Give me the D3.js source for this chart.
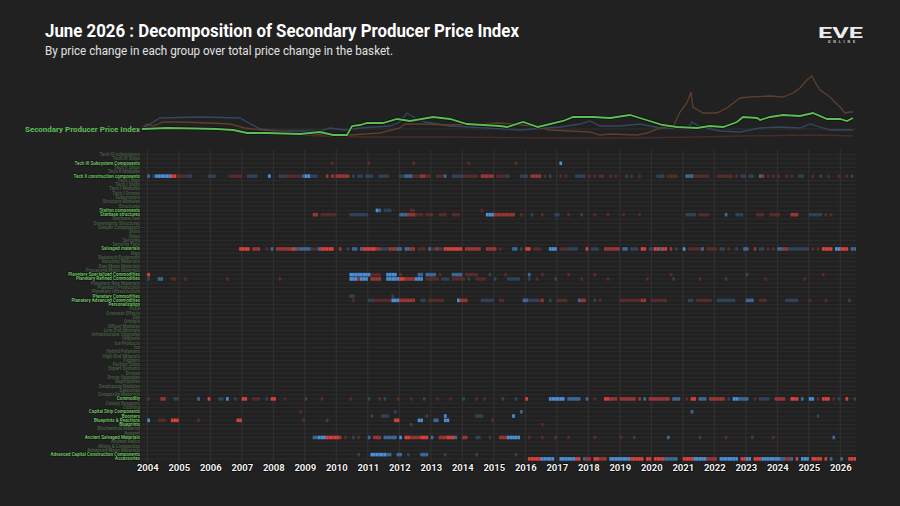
<!DOCTYPE html>
<html lang="en">
<head>
<meta charset="UTF-8">
<title>Decomposition of Secondary Producer Price Index</title>
<script src="https://cdn.jsdelivr.net/npm/d3@7"></script>
<style>
    body { margin: 0; background: #212121; }
    svg { display: block; }
    text { font-family: Roboto, "Liberation Sans", sans-serif; }
</style>
</head>
<body>
<script>
    // monthly cells, Jan 2004 .. Jun 2026
    var nMonths = 270;
    var years = d3.range(2004, 2027);

    // market groups, top to bottom
    var groups = [
        "Tech III subsystems", "Tech III Ships", "Tech III Subsystem Components", "Tech II Ships",
        "Tech II Modules", "Tech II construction components", "Tech I Rigs", "Tech I Ships",
        "Tech I Modules", "Tech I Drones", "Subsystems", "Structure Modules", "Structures",
        "Station components", "Starbase structures", "Starbase Fuel", "Sovereignty Structures",
        "Sleeper Components", "Skins", "Ships", "Services", "Security Tags", "Salvaged materials",
        "Rigs", "Research Equipment", "Reaction Materials", "Raw Moon Materials",
        "Processed Moon Materials", "Planetary Specialized Commodities", "Planetary Refined Commodities",
        "Planetary Raw Materials", "Planetary Production", "Planetary Infrastructure",
        "Planetary Commodities", "Planetary Advanced Commodities", "Personalization", "PLEX",
        "Overseer Effects", "Ore", "Orbitals", "Officer Modules", "Low-End Minerals",
        "Infrastructure Upgrades", "Implants", "Ice Products", "Ice", "Hybrid Polymers",
        "High-End Minerals", "Fighters", "Faction Ships", "Expert Systems", "Drones",
        "Drone Upgrades", "Deployables", "Deadspace Modules", "Datacores", "Composite Materials",
        "Commodity", "Colony Reagents", "Clothing", "Capital Ship Components", "Boosters",
        "Blueprints & Reactions", "Blueprints", "Biochemical Material", "Apparel",
        "Ancient Salvaged Materials", "Ancient Relics", "Alloys & Composites",
        "Advanced Moon Materials", "Advanced Capital Construction Components", "Accessories"
    ];

    var highlighted = [
        "Tech III Subsystem Components", "Tech II construction components", "Station components",
        "Starbase structures", "Salvaged materials", "Planetary Specialized Commodities",
        "Planetary Refined Commodities", "Planetary Commodities", "Planetary Advanced Commodities",
        "Personalization", "Commodity", "Capital Ship Components", "Boosters",
        "Blueprints & Reactions", "Blueprints", "Ancient Salvaged Materials",
        "Advanced Capital Construction Components", "Accessories"
    ];

    // share of price change per month: "month:code" or "from-to:code"
    // codes 1-3 = blue (weak..strong), a-c = red (weak..strong)
    var cells = {
        "Tech III Subsystem Components": "70:a 84:a 101:a 122:a 140:a 157:3",
        "Tech II construction components": "0:2 2:1 3-8:3 9-10:c 11:a 12-14:a 15-16:1 23:1 24-25:1 31-35:a 38-41:1 46:3 50-52:1 53-58:a 59:2 60-61:3 62-64:1 68:b 70:b 71:a 72-76:b 78:1 80-81:1 83:1 84-85:1 88-91:1 96-97:1 98-100:2 101-103:a 104-105:b 106-107:a 110-112:a 113:2 116-119:1 120-125:a 127-131:b 133-136:a 137:1 142-144:1 146-149:b 151:a 153:1 157:a 159:a 163-166:1 168:a 170:a 172-173:a 176:a 178:a 182:1 184:a 187:a 194-196:1 198-201:a 205-207:2 208-213:a 217-222:a 224:a 226-227:1 229-230:1 233:2 234:b 236:a 238:a 240:a 243:a 245:a 248-249:1 253:a 256:1 259:a 263:a 266:a 268:1",
        "Station components": "87:3 88:2 90-92:1 100-101:a 127:a",
        "Starbase structures": "63-64:b 66-71:a 77-83:1 96-98:2 99-101:b 102-104:a 106-108:a 111-113:a 116-118:a 129-131:3 132-139:b 142:a 146:1 150:a 155-156:1 160:a 165:1 170:a 175:a 181:a 187:a 205-208:1 210-213:a 220:2 224-226:1 232-234:a 237-240:a 245-247:b 252-256:1 258:a 260:a",
        "Salvaged materials": "35-38:c 40-42:b 45:a 47:2 49-54:b 55:c 56:2 57:b 58-61:2 62:1 63-64:a 65:2 66-70:c 73:b 76:1 78-79:2 81:2 82-86:c 87-88:b 89-91:1 92-94:b 95-96:2 98-99:2 100-101:b 103-105:a 107:2 108:a 109:1 110:b 111:1 112:a 113-119:c 121-126:b 129-132:b 134:a 139-140:2 142:1 144-145:c 147-149:a 153-155:3 157-159:a 160-163:1 167:c 169-171:1 174-179:b 181-182:2 184-186:1 188-189:c 191-192:1 193-194:c 195:2 196-197:c 199:b 201:1 204:3 206-210:a 211:2 213-216:a 218-219:1 221:a 224:1 227-228:2 231:b 233-234:1 236:a 238:a 240-241:2 242-243:b 244-251:1 253:a 255:a 257-260:c 262-263:3 264-266:c 268-269:2",
        "Planetary Specialized Commodities": "0:c 77-84:3 85-88:a 91-94:3 96:a 103-104:2 106-109:2 111:a 116-119:2 121-125:a 130:1 136:a 145:2 150:a 160:a 170:a 199:a 228:1 257:a",
        "Planetary Refined Commodities": "0:1 4-5:2 9-10:a 14:a 30:a 50:a 77-79:3 80:b 81-83:3 85-88:b 91-95:3 96-97:c 98-101:b 102-104:3 106-110:a 112-114:1 116-120:a 122:1 125-128:a 132:1 137-141:1 145:1 148:a 155:1 165:a 175:a 190:a 200:1 210:a 220:1 235:a 250:a",
        "Planetary Commodities": "77-78:1 93:1",
        "Planetary Advanced Commodities": "78:a 84-85:1 86-92:a 93-95:3 96-101:b 104-105:1 107-112:a 118:3 119-121:b 127-131:1 134-135:a 143-144:2 145-148:1 149:a 150:b 153:1 156-159:a 164:2 165-166:b 170:1 172:a 180-187:a 188-189:b 192-197:a 206-207:1 209-214:a 217-223:1 228-230:2 233-235:a 243-247:1 252:a 258:a 267:1",
        "Commodity": "0:a 5-6:b 10-11:1 19:2 23:c 27-28:1 30:3 33:1 36-37:c 40-42:a 45:1 47-48:c 52:a 60:1 66:a 77:a 84:1 88:a 90:1 95:a 100:a 105:1 110:a 115:a 120:1 125:a 128:a 135:1 140:1 144:c 153-158:3 160-164:2 167:2 170:a 174-175:c 176-178:b 180-185:b 187:b 189:2 191-197:b 198:b 200-202:2 205:a 207-208:c 210-212:2 214-219:b 221:1 223-224:3 225-228:2 231:a 233-236:1 239-242:b 245-247:c 249:2 252-253:3 255:a 257-259:c 261:a 263:1 266:c 269:1",
        "Capital Ship Components": "58:a 94:1 142:2 207:2",
        "Boosters": "85:1 89-91:1 106:1 113:3 125-127:1 139:3 255:1",
        "Blueprints & Reactions": "0:3 4-6:a 9-11:c 19:a 34-35:c 59:a 68:1 94-95:c 103-104:3 109-110:2 113-114:3 131:a",
        "Blueprints": "100:1 150:a",
        "Ancient Salvaged Materials": "63-64:2 65-67:3 68-72:c 73:b 75:a 78:1 80:a 84:2 86-88:b 90-94:2 96:3 98-99:c 100-103:b 104-106:c 108:2 111-113:b 114-116:c 117:2 120-121:b 125-126:1 130:a 134-136:b 137-141:3 145:a 150:a 155:a 160:a 170:a 180:a 185:1 198:2 210:1 220:a 230:1 238:a 261:2",
        "Advanced Capital Construction Components": "80:1 85-90:3 91-92:2 95-96:2 99:1 104-106:2 113:1 125:1 140:1",
        "Accessories": "145-149:c 150-154:3 157-162:3 163-164:c 166:2 167-168:b 170-171:c 172-174:b 176-183:3 184-188:c 190-191:c 193-196:c 197-201:2 204-207:c 208-212:3 213-216:b 218-224:3 226-227:c 228-229:3 231-233:c 234-240:3 241-242:2 243-244:b 245:2 247:c 249-251:3 253-256:c 258:c 260:2 264:2 267-269:c"
    };

    // index lines: [year, index value]
    var sppiLine = [[2003.83, 100], [2004.63, 102], [2005.5, 101], [2006.2, 100], [2006.73, 98], [2007.17, 92], [2007.80, 92], [2008.85, 90], [2009.48, 94], [2009.90, 88], [2010.34, 88], [2010.50, 106], [2010.75, 108], [2010.98, 112], [2011.48, 112], [2011.93, 120], [2012.34, 116], [2013.07, 124], [2013.61, 120], [2014.15, 110], [2015.20, 106], [2015.42, 104], [2015.93, 114], [2016.40, 104], [2017.20, 116], [2017.52, 124], [2018.15, 124], [2018.69, 122], [2019.32, 128], [2019.74, 120], [2020.37, 108], [2020.82, 104], [2021.45, 102], [2021.86, 106], [2022.28, 104], [2022.72, 114], [2022.91, 124], [2023.36, 122], [2023.45, 118], [2023.77, 124], [2024.18, 128], [2024.72, 126], [2025.13, 132], [2025.58, 120], [2025.99, 120], [2026.21, 116], [2026.40, 122]];
    var brownLine = [[2003.83, 102], [2003.99, 110], [2004.18, 106], [2004.50, 114], [2005.04, 114], [2005.99, 112], [2006.63, 110], [2007.10, 102], [2007.90, 96], [2008.85, 92], [2009.80, 88], [2010.43, 88], [2011.39, 92], [2012.02, 102], [2012.18, 110], [2012.66, 110], [2013.61, 108], [2015.20, 112], [2016.24, 106], [2016.78, 98], [2018.05, 94], [2018.37, 88], [2018.69, 90], [2019.55, 88], [2019.86, 92], [2020.28, 102], [2020.69, 104], [2020.91, 134], [2021.13, 152], [2021.26, 174], [2021.32, 144], [2021.64, 132], [2022.08, 132], [2022.40, 142], [2022.82, 162], [2023.13, 164], [2023.77, 166], [2024.18, 164], [2024.50, 172], [2024.72, 182], [2024.94, 198], [2025.10, 206], [2025.20, 194], [2025.36, 178], [2025.67, 164], [2025.99, 144], [2026.15, 132], [2026.31, 134], [2026.40, 134]];
    var blueLine = [[2003.83, 100], [2004.09, 110], [2004.40, 122], [2005.68, 124], [2006.94, 122], [2007.17, 114], [2007.58, 100], [2008.21, 96], [2009.48, 96], [2009.80, 102], [2010.28, 98], [2010.75, 102], [2011.71, 106], [2012.02, 114], [2012.24, 132], [2012.50, 122], [2012.82, 114], [2013.61, 106], [2014.25, 104], [2015.83, 98], [2017.10, 104], [2017.74, 110], [2018.05, 116], [2018.37, 106], [2019.01, 106], [2019.64, 110], [2020.28, 102], [2021.17, 102], [2021.29, 114], [2021.55, 104], [2022.18, 96], [2022.82, 94], [2023.45, 102], [2024.09, 104], [2024.72, 102], [2025.04, 110], [2025.36, 104], [2025.67, 98], [2026.40, 98]];
    var redLine = [[2003.83, 100], [2004.40, 104], [2005.68, 102], [2006.94, 96], [2008.21, 90], [2009.48, 86], [2010.75, 84], [2013.61, 84], [2015.20, 83], [2017.10, 82], [2019.01, 82], [2020.28, 83], [2021.55, 84], [2022.82, 86], [2024.09, 87], [2025.36, 88], [2026.40, 86]];

    var codeValue = { "1": 1, "2": 2, "3": 3, "a": -1, "b": -2, "c": -3 };

    function parseCells(spec) {
        var out = [];
        spec.trim().split(/\s+/).forEach(function (tok) {
            var p = tok.split(":"), r = p[0].split("-");
            var a = +r[0], b = r.length > 1 ? +r[1] : a;
            for (var m = a; m <= b && m < nMonths; m++) out.push({ m: m, v: codeValue[p[1]] });
        });
        return out;
    }

    var W = 900, H = 506;
    var svg = d3.select("body").append("svg").attr("width", W).attr("height", H);
    svg.append("rect").attr("width", W).attr("height", H).attr("fill", "#212121");

    // scales
    var x = d3.scaleLinear().domain([2004, 2026]).range([147.3, 840.3]);
    var y = d3.scaleBand().domain(groups).range([152.9, 460.7]).paddingInner(0.16);
    var yLine = d3.scaleLinear().domain([80, 210]).range([139, 74]);
    var alpha = d3.scaleLinear().domain([1, 3]).range([0.28, 1]);
    var rowMid = function (g) { return y(g) + y.bandwidth() / 2; };

    // title
    svg.append("text").attr("x", 45).attr("y", 37)
        .attr("font-size", 19).attr("font-weight", "bold").attr("fill", "#ffffff")
        .attr("textLength", 474).attr("lengthAdjust", "spacingAndGlyphs")
        .text("June 2026 : Decomposition of Secondary Producer Price Index");
    svg.append("text").attr("x", 45).attr("y", 55)
        .attr("font-size", 12).attr("fill", "#e2e2e2")
        .attr("textLength", 348).attr("lengthAdjust", "spacingAndGlyphs")
        .text("By price change in each group over total price change in the basket.");

    // logo
    svg.append("text").attr("x", 818).attr("y", 37.5)
        .attr("font-size", 15).attr("font-weight", "bold").attr("fill", "#ececec")
        .attr("textLength", 45).attr("lengthAdjust", "spacingAndGlyphs").text("EVE");
    svg.append("text").attr("x", 828).attr("y", 43)
        .attr("font-size", 3.6).attr("font-weight", "bold").attr("fill", "#cfcfcf")
        .attr("textLength", 27).attr("lengthAdjust", "spacing").text("ONLINE");

    // row guide lines
    svg.append("g").selectAll("line").data(groups).enter().append("line")
        .attr("x1", 141).attr("x2", 856)
        .attr("y1", rowMid).attr("y2", rowMid)
        .attr("stroke", "#2c2c2c").attr("stroke-width", 1);

    // year grid
    svg.append("g").selectAll("line").data(years).enter().append("line")
        .attr("x1", function (d) { return x(d); }).attr("x2", function (d) { return x(d); })
        .attr("y1", 150).attr("y2", 462)
        .attr("stroke", "#333333").attr("stroke-width", 1);

    // heat cells
    var cellData = [];
    Object.keys(cells).forEach(function (g) {
        parseCells(cells[g]).forEach(function (c) { c.g = g; cellData.push(c); });
    });
    var mx = function (m) { return x(2004 + m / 12); };
    svg.append("g").selectAll("rect").data(cellData).enter().append("rect")
        .attr("x", function (d) { return mx(d.m); })
        .attr("width", function (d) { return mx(d.m + 1) - mx(d.m); })
        .attr("y", function (d) { return y(d.g); })
        .attr("height", y.bandwidth())
        .attr("fill", function (d) { return d.v > 0 ? "#4b8fd8" : "#d9413d"; })
        .attr("fill-opacity", function (d) { return alpha(Math.abs(d.v)); });

    // row labels
    var yAxis = svg.append("g").attr("transform", "translate(141,0)")
        .call(d3.axisLeft(y).tickSize(0).tickPadding(1));
    yAxis.select(".domain").remove();
    yAxis.selectAll("text")
        .attr("font-family", "Roboto, sans-serif")
        .attr("font-size", 4.5).attr("font-weight", "bold")
        .attr("fill", function (d) { return highlighted.indexOf(d) >= 0 ? "#6cc75f" : "#41583f"; })
        .attr("stroke", function (d) { return highlighted.indexOf(d) >= 0 ? "#140a16" : "none"; })
        .attr("stroke-width", 1.1).attr("paint-order", "stroke");

    // year labels
    var xAxis = svg.append("g").attr("transform", "translate(0,462)")
        .call(d3.axisBottom(x).tickValues(years).tickFormat(d3.format("d")).tickSize(0).tickPadding(2));
    xAxis.select(".domain").remove();
    xAxis.selectAll("text")
        .attr("font-family", "Roboto, sans-serif")
        .attr("font-size", 9.5).attr("font-weight", "bold").attr("fill", "#f2f2f2")
        .attr("stroke", "#000").attr("stroke-width", 1.2).attr("paint-order", "stroke");

    // index lines
    var line = d3.line()
        .x(function (d) { return x(d[0]); })
        .y(function (d) { return yLine(d[1]); })
        .curve(d3.curveLinear);

    svg.append("line")
        .attr("x1", 142).attr("x2", 856)
        .attr("y1", yLine(100)).attr("y2", yLine(100))
        .attr("stroke", "#363636").attr("stroke-width", 0.8);

    [[redLine, "#4a2b2b"], [blueLine, "#34475f"], [brownLine, "#5e3f2c"]].forEach(function (s) {
        svg.append("path").datum(s[0])
            .attr("fill", "none").attr("stroke", s[1]).attr("stroke-width", 1.3)
            .attr("d", line);
    });
    svg.append("path").datum(sppiLine)
        .attr("fill", "none").attr("stroke", "#111").attr("stroke-width", 3.4)
        .attr("d", line);
    svg.append("path").datum(sppiLine)
        .attr("fill", "none").attr("stroke", "#5cbd55").attr("stroke-width", 1.8)
        .attr("d", line);

    svg.append("text").attr("x", 140).attr("y", yLine(100)).attr("dy", "0.35em")
        .attr("text-anchor", "end")
        .attr("font-size", 7.2).attr("font-weight", "bold").attr("fill", "#5cbd55")
        .attr("textLength", 115).attr("lengthAdjust", "spacingAndGlyphs")
        .text("Secondary Producer Price Index");
</script>
</body>
</html>
